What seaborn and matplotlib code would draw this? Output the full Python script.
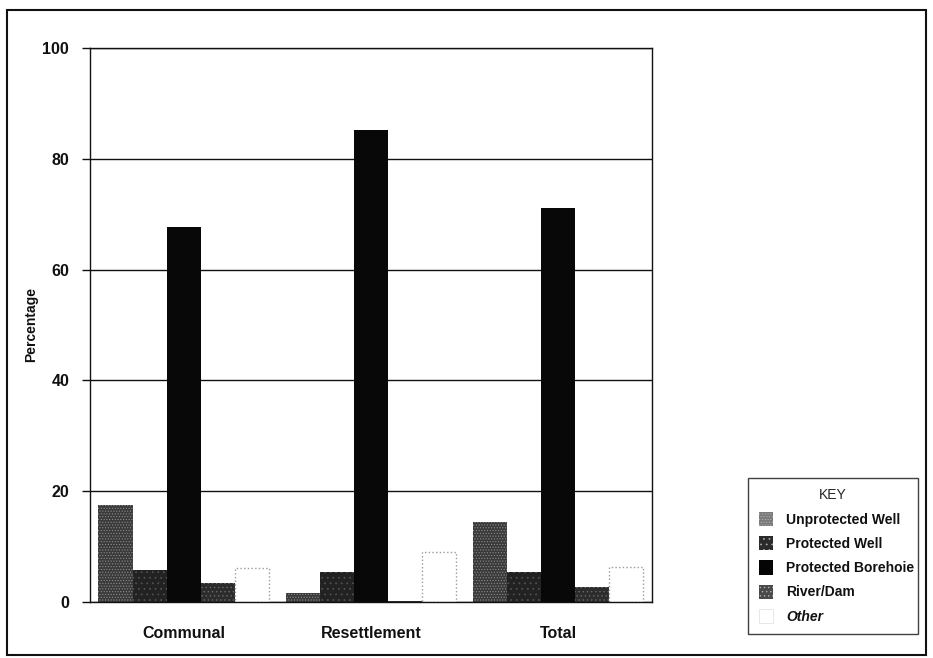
import matplotlib
matplotlib.use("Agg")
import matplotlib.pyplot as plt
from matplotlib.patches import Rectangle
import seaborn as sns
import pandas as pd

categories = ["Communal", "Resettlement", "Total"]
sources = ["Unprotected Well", "Protected Well", "Protected Borehoie", "River/Dam", "Other"]
unprotected_well = [17.5, 1.6, 14.4]
protected_well = [5.8, 5.4, 5.4]
protected_borehole = [67.7, 85.2, 71.1]
river_dam = [3.4, 0.2, 2.7]
other = [6.1, 9.0, 6.3]

series = [unprotected_well, protected_well, protected_borehole, river_dam, other]
rows = []
for src, vals in zip(sources, series):
    for cat, v in zip(categories, vals):
        rows.append({"Area": cat, "Source": src, "Percentage": v})
df = pd.DataFrame(rows)

sns.set_theme(style="white")
plt.rcParams["font.family"] = ["Liberation Sans", "DejaVu Sans"]
plt.rcParams["hatch.linewidth"] = 0.5

fills = ["#3a3a3a", "#222222", "#080808", "#2c2c2c", "#ffffff"]
hatches = ["......", "...", None, "....", None]
hatch_cols = ["#8c8c8c", "#555555", None, "#6a6a6a", None]

fig = plt.figure(figsize=(9.33, 6.58), dpi=100)
ax = fig.add_axes([0.0965, 0.0851, 0.602, 0.842])

sns.barplot(data=df, x="Area", y="Percentage", hue="Source", hue_order=sources,
            order=categories, palette=fills, width=0.91, gap=0, saturation=1,
            edgecolor="none", linewidth=0, ax=ax, legend=False)

for cont, fc, h, hc in zip(ax.containers, fills, hatches, hatch_cols):
    for bar in cont:
        bar.set_facecolor(fc)
        if h:
            bar.set_hatch(h)
            bar.set_edgecolor(hc)
            bar.set_linewidth(0)
        if fc == "#ffffff":
            bar.set_edgecolor("#9a9a9a")
            bar.set_linestyle(":")
            bar.set_linewidth(1.0)

ax.set_ylim(0, 100)
ax.set_xlim(-0.5, 2.5)
ax.set_yticks([0, 20, 40, 60, 80, 100])
ax.yaxis.grid(True, color="#111111", linewidth=1.0)
ax.set_axisbelow(True)
for s in ax.spines.values():
    s.set_visible(True)
    s.set_color("#111111")
    s.set_linewidth(1.0)
ax.tick_params(axis="y", direction="out", length=6, width=1, color="#111111",
               labelsize=11.5, pad=9, left=True)
ax.tick_params(axis="x", length=0, labelsize=11.5, pad=17)
for lab in ax.get_xticklabels() + ax.get_yticklabels():
    lab.set_fontweight("bold")
    lab.set_color("#111111")
ax.set_xlabel("")
ax.set_ylabel("Percentage", fontsize=10, fontweight="bold", color="#111111", labelpad=3)

# key box on the right
lfc = ["#7a7a7a", "#2a2a2a", "#050505", "#4a4a4a", "#ffffff"]
handles = []
for fc, h in zip(lfc, hatches):
    if fc == "#ffffff":
        p = Rectangle((0, 0), 1, 1, facecolor="white", edgecolor="#dddddd", linewidth=0.5)
    else:
        p = Rectangle((0, 0), 1, 1, facecolor=fc, hatch=h,
                      edgecolor="#b0b0b0" if h else "none", linewidth=0)
    handles.append(p)
leg = fig.legend(handles, sources, title="KEY", loc="upper left",
                 bbox_to_anchor=(0.802, 0.0, 0.182, 0.2736), mode="expand",
                 frameon=True, fancybox=False, edgecolor="#111111",
                 fontsize=10, title_fontsize=10, handlelength=1.0, handleheight=1.2,
                 handletextpad=1.0, labelspacing=0.68, borderpad=0.75,
                 borderaxespad=0)
leg.get_frame().set_linewidth(1.0)
for t in leg.get_texts():
    t.set_fontweight("bold")
    t.set_color("#111111")
for t, s in zip(leg.get_texts(), sources):
    if s == "Other":
        t.set_fontstyle("italic")

fig.patches.append(Rectangle((0.008, 0.005), 0.984, 0.98, transform=fig.transFigure,
                             fill=False, edgecolor="#111111", linewidth=1.5))

fig.savefig("out.png", dpi=100, facecolor="white")
